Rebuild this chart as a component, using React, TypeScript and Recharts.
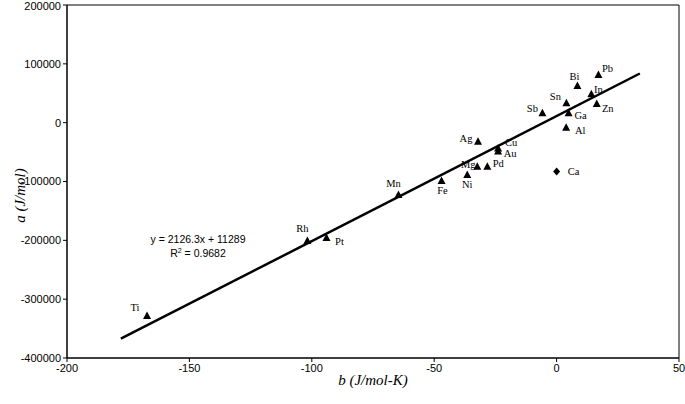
import React from "react";
import { ReferenceArea, ReferenceLine, Scatter, ScatterChart, XAxis, YAxis } from "recharts";

// a vs b for each metal
const metals = ["Ti", "Rh", "Pt", "Mn", "Fe", "Ni", "Mg", "Pd", "Ag", "Cu", "Au", "Sb", "Sn", "Ga", "Al", "Bi", "Pb", "In", "Zn"];
const bValues = [-167.3, -101.8, -94, -64.6, -47, -36.5, -32.4, -28.3, -32.1, -23.9, -23.9, -5.8, 4.0, 4.9, 3.9, 8.5, 17.1, 14.2, 16.4];
const aValues = [-328600, -201000, -196000, -123000, -99000, -89000, -75000, -75000, -32400, -44000, -49000, 15900, 32900, 15900, -8600, 62300, 81000, 48200, 31700];

// the odd one out, drawn as a diamond
const outlierNames = ["Ca"];
const outlierB = [0];
const outlierA = [-83000];

// printed fit: y = 2126.3x + 11289, R² = 0.9682
const slope = 2126.3;
const intercept = 11289;
const fitRange = [-178, 34];

const xTicks = [-200, -150, -100, -50, 0, 50];
const yTicks = [-400000, -300000, -200000, -100000, 0, 100000, 200000];

// where each label sits relative to its marker (px)
const labelOffset: Record<string, [number, number]> = {
  Ti: [-12, -8], Rh: [-5, -12], Pt: [13, 4], Mn: [-5, -12], Fe: [1, 10], Ni: [0, 9],
  Mg: [-9, -2], Pd: [11, -3], Ag: [-12, -3], Cu: [13, -6], Au: [12, 2], Sb: [-10, -5],
  Sn: [-11, -7], Ga: [12, 2], Al: [14, 3], Bi: [-3, -10], Pb: [9, -7], In: [7, -5],
  Zn: [11, 4], Ca: [17, 0],
};

const serif = "'Liberation Serif', 'Times New Roman', serif";
const sans = "'Liberation Sans', Arial, sans-serif";

const metalData = metals.map((m, i) => ({ name: m, b: bValues[i], a: aValues[i] }));
const outlierData = outlierNames.map((m, i) => ({ name: m, b: outlierB[i], a: outlierA[i] }));

function PointLabel({ cx, cy, name }: { cx: number; cy: number; name: string }) {
  const [dx, dy] = labelOffset[name] || [10, 0];
  return (
    <text x={cx + dx} y={cy + dy} textAnchor="middle" dominantBaseline="central" fontFamily={serif} fontSize={10.5} fill="#000">
      {name}
    </text>
  );
}

function Triangle(props: any) {
  const { cx, cy, payload } = props;
  return (
    <g>
      <polygon points={`${cx},${cy - 4.5} ${cx + 4},${cy + 3} ${cx - 4},${cy + 3}`} fill="#000" />
      <PointLabel cx={cx} cy={cy} name={payload.name} />
    </g>
  );
}

function Diamond(props: any) {
  const { cx, cy, payload } = props;
  return (
    <g>
      <polygon points={`${cx},${cy - 4} ${cx + 3.5},${cy} ${cx},${cy + 4} ${cx - 3.5},${cy}`} fill="#000" />
      <PointLabel cx={cx} cy={cy} name={payload.name} />
    </g>
  );
}

export default function App() {
  const tick = { fill: "#000", fontSize: 11, fontFamily: sans };
  return (
    <div style={{ position: "relative", width: 685, height: 404, background: "#fff" }}>
      <style>{"body{margin:0}"}</style>
      <ScatterChart width={685} height={404} margin={{ top: 5, right: 6, bottom: 0, left: 0 }}>
        <XAxis
          type="number"
          dataKey="b"
          domain={[-200, 50]}
          ticks={xTicks}
          height={46}
          tick={tick}
          tickSize={4}
          stroke="#000"
          allowDataOverflow
        />
        <YAxis
          type="number"
          dataKey="a"
          domain={[-400000, 200000]}
          ticks={yTicks}
          width={67}
          tick={tick}
          tickSize={4}
          stroke="#000"
          allowDataOverflow
        />
        <ReferenceArea x1={-200} x2={50} y1={-400000} y2={200000} fill="none" stroke="#000" strokeWidth={1} fillOpacity={0} />
        <ReferenceLine
          segment={[
            { x: fitRange[0], y: slope * fitRange[0] + intercept },
            { x: fitRange[1], y: slope * fitRange[1] + intercept },
          ]}
          stroke="#000"
          strokeWidth={2.5}
        />
        <Scatter data={metalData} shape={Triangle} isAnimationActive={false} />
        <Scatter data={outlierData} shape={Diamond} isAnimationActive={false} />
      </ScatterChart>
      <div style={{ position: "absolute", left: 0, top: 0, width: 40, height: 390, display: "flex", alignItems: "center", justifyContent: "center" }}>
        <div style={{ transform: "rotate(-90deg)", whiteSpace: "nowrap", fontFamily: serif, fontStyle: "italic", fontSize: 15 }}>a (J/mol)</div>
      </div>
      <div style={{ position: "absolute", left: 67, width: 612, top: 372, textAlign: "center", fontFamily: serif, fontStyle: "italic", fontSize: 15 }}>
        b (J/mol-K)
      </div>
      <div style={{ position: "absolute", left: 130, width: 136, top: 232, textAlign: "center", fontFamily: sans, fontSize: 10.5, lineHeight: "14px" }}>
        <div>y = 2126.3x + 11289</div>
        <div>
          R<sup style={{ fontSize: 7, verticalAlign: "4px", lineHeight: 0 }}>2</sup> = 0.9682
        </div>
      </div>
    </div>
  );
}
